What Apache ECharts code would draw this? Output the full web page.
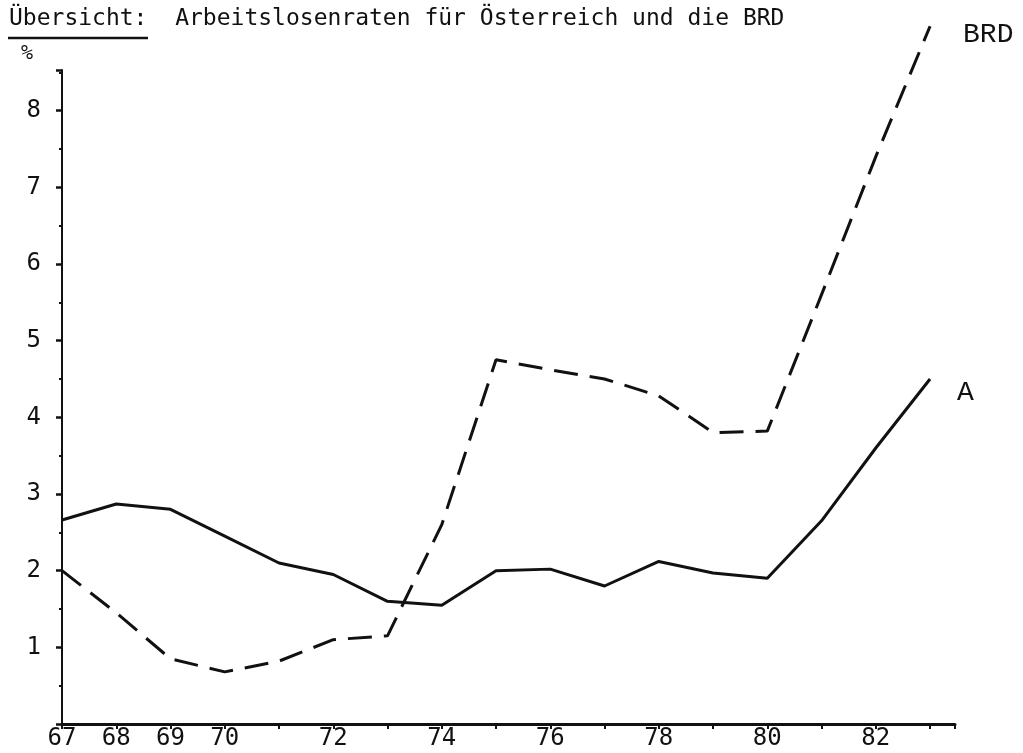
<!DOCTYPE html>
<html>
<head>
<meta charset="utf-8">
<script src="https://cdn.jsdelivr.net/npm/echarts@6/dist/echarts.min.js"></script>
<style>html,body{margin:0;padding:0;background:#fff}#c{width:1023px;height:753px}</style>
</head>
<body>
<div id="c"></div>
<script>
const titleLead = 'Übersicht:';
const titleRest = 'Arbeitslosenraten für Österreich und die BRD';
const yUnit = '%';
const years = [67,68,69,70,71,72,73,74,75,76,77,78,79,80,81,82,83];
const xLabelYears = [67,68,69,70,72,74,76,78,80,82];
const yLabels = [1,2,3,4,5,6,7,8];
const seriesA = [2.66,2.87,2.8,2.45,2.1,1.95,1.6,1.55,2.0,2.02,1.8,2.12,1.97,1.9,2.65,3.6,4.5];
const seriesBRD = [2.0,1.45,0.85,0.68,0.82,1.1,1.15,2.6,4.75,4.62,4.5,4.28,3.8,3.82,5.6,7.4,9.1];
const nameA = 'A';
const nameBRD = 'BRD';

const font = '"DejaVu Sans Mono", "Liberation Mono", monospace';
const courier = '"Liberation Mono", "DejaVu Sans Mono", monospace';
const chart = echarts.init(document.getElementById('c'));
chart.setOption({
  animation: false,
  backgroundColor: '#fff',
  grid: {left: 62, right: 68, top: 70, bottom: 29, containLabel: false},
  graphic: [
    {type: 'text', left: 9, top: 8, style: {text: titleLead + '  ' + titleRest, font: '23px ' + font, fill: '#111'}},
    {type: 'line', shape: {x1: 8, y1: 38, x2: 148, y2: 38}, style: {stroke: '#111', lineWidth: 2.5}},
    {type: 'text', left: 21, top: 44, style: {text: yUnit, font: '20px ' + font, fill: '#111'}}
  ],
  xAxis: {
    type: 'value', min: 67, max: 83.46, interval: 1,
    axisLine: {show: true, lineStyle: {color: '#111', width: 3}},
    axisTick: {show: true, length: 5, lineStyle: {color: '#111', width: 2}},
    splitLine: {show: false},
    axisLabel: {
      color: '#111', fontFamily: font, fontSize: 24, margin: 3,
      formatter: v => xLabelYears.includes(v) ? String(v) : ''
    }
  },
  yAxis: {
    type: 'value', min: 0, max: 8.53, interval: 1,
    axisLine: {show: true, lineStyle: {color: '#111', width: 2}},
    axisTick: {show: true, length: 6, lineStyle: {color: '#111', width: 2.5}},
    minorTick: {show: true, splitNumber: 2, length: 3, lineStyle: {color: '#111', width: 2}},
    splitLine: {show: false},
    axisLabel: {
      color: '#111', fontFamily: font, fontSize: 24, margin: 21,
      formatter: v => yLabels.includes(v) ? String(v) : ''
    }
  },
  series: [
    {
      name: nameA, type: 'line', symbol: 'none', clip: false,
      data: years.map((y, i) => [y, seriesA[i]]),
      lineStyle: {color: '#111', width: 3},
      endLabel: {show: true, formatter: nameA, color: '#111', fontFamily: courier, fontSize: 28, offset: [19, 14]}
    },
    {
      name: nameBRD, type: 'line', symbol: 'none', clip: false,
      data: years.map((y, i) => [y, seriesBRD[i]]),
      lineStyle: {color: '#111', width: 3, type: [24, 12]},
      endLabel: {show: true, formatter: nameBRD, color: '#111', fontFamily: courier, fontSize: 28, offset: [25, 8]}
    }
  ]
});
</script>
</body>
</html>
